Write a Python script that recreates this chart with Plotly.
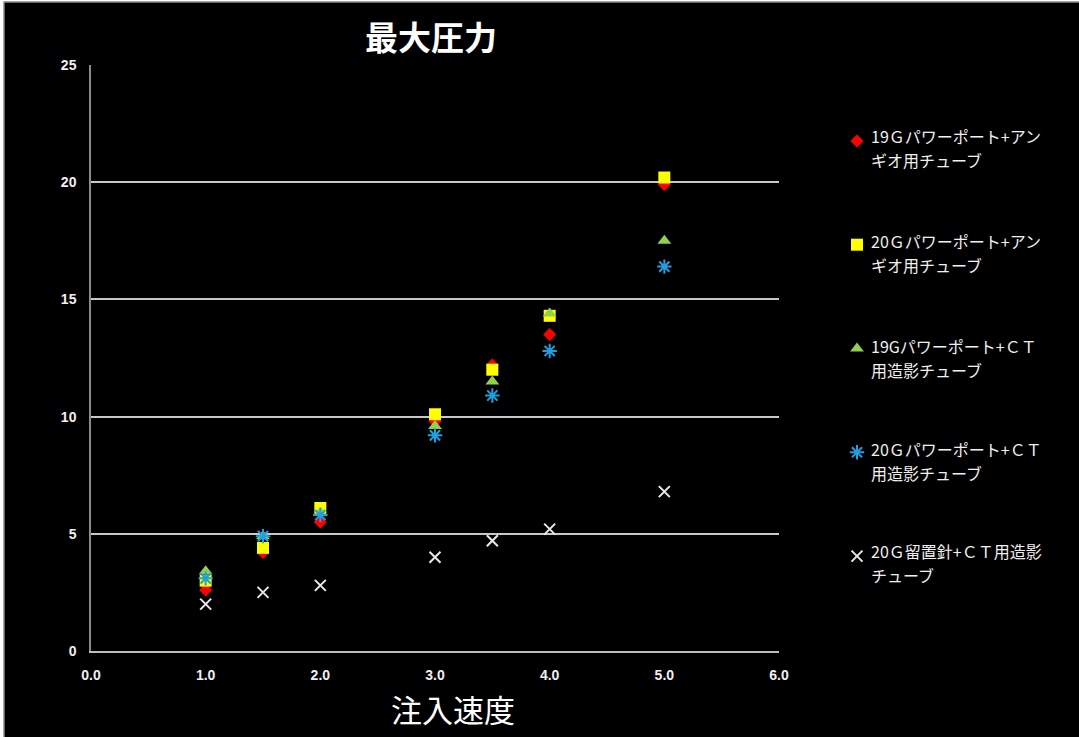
import plotly.graph_objects as go

# injection rate (x) and maximum pressure (y) per catheter/tube combination
speeds = [1.0, 1.5, 2.0, 3.0, 3.5, 4.0, 5.0]

# legend captions, two lines each
label_lines = [
    ("19Ｇパワーポート+アン", "ギオ用チューブ"),
    ("20Ｇパワーポート+アン", "ギオ用チューブ"),
    ("19Gパワーポート+ＣＴ", "用造影チューブ"),
    ("20Ｇパワーポート+ＣＴ", "用造影チューブ"),
    ("20Ｇ留置針+ＣＴ用造影", "チューブ"),
]

p_19g_angio = [2.6, 4.2, 5.5, 9.8, 12.2, 13.5, 19.9]
p_20g_angio = [3.0, 4.4, 6.1, 10.1, 12.0, 14.3, 20.2]
p_19g_ct = [3.4, 4.9, 5.9, 9.6, 11.5, 14.4, 17.5]
p_20g_ct = [3.1, 4.9, 5.8, 9.2, 10.9, 12.8, 16.4]
p_20g_needle_ct = [2.0, 2.5, 2.8, 4.0, 4.7, 5.2, 6.8]

x_ticks = [0, 1, 2, 3, 4, 5, 6]
y_ticks = [0, 5, 10, 15, 20, 25]

series = [
    (p_19g_angio, dict(symbol="diamond", size=10, color="#ff0000")),
    (p_20g_angio, dict(symbol="square", size=12, color="#ffff00")),
    (p_19g_ct, dict(symbol="triangle-up", size=12, color="#92d050")),
    (p_20g_ct, dict(symbol="asterisk-open", size=12, color="#1fa0e0",
                    line=dict(color="#1fa0e0", width=2))),
    (p_20g_needle_ct, dict(symbol="x-thin-open", size=11, color="#e8e8e8",
                           line=dict(color="#e8e8e8", width=2))),
]

jp_font = "Noto Sans CJK JP"

# plot area in pixels, used to place the paper-referenced captions
PLOT_L, PLOT_R, PLOT_T, PLOT_B = 91, 779, 65, 651


def paper_x(px):
    return (px - PLOT_L) / (PLOT_R - PLOT_L)


def paper_y(py):
    return (PLOT_B - py) / (PLOT_B - PLOT_T)


fig = go.Figure()
for i, (vals, marker) in enumerate(series):
    fig.add_trace(go.Scatter(
        x=speeds, y=vals, mode="markers",
        name=" ", legendgroup=f"g{i}", marker=marker,
    ))

# black backdrop with a thin grey frame
fig.add_shape(
    type="rect", xref="paper", yref="paper", layer="below",
    x0=paper_x(4), x1=paper_x(1082), y0=paper_y(740), y1=paper_y(2),
    fillcolor="#000000", line=dict(color="#8a8a8a", width=1.5),
)

# legend captions beside the legend keys
entry_top = [136, 241, 346, 449, 551]
for (l1, l2), yy in zip(label_lines, entry_top):
    for text, py in ((l1, yy), (l2, yy + 24)):
        fig.add_annotation(
            text=text, xref="paper", yref="paper",
            x=paper_x(869), y=paper_y(py), xanchor="left", yanchor="middle",
            showarrow=False,
            font=dict(family=jp_font, size=16, color="#f0f0f0"),
        )

# x-axis title, placed slightly right of the axis centre
fig.add_annotation(
    text="注入速度", xref="paper", yref="paper",
    x=paper_x(453), y=paper_y(708), xanchor="center", yanchor="middle",
    showarrow=False,
    font=dict(family=jp_font, size=31, color="#ffffff"),
)

fig.update_layout(
    width=1079, height=737,
    paper_bgcolor="#ffffff", plot_bgcolor="#000000",
    margin=dict(l=PLOT_L, r=1079 - PLOT_R, t=PLOT_T, b=737 - PLOT_B),
    title=dict(
        text="最大圧力", x=paper_x(431), xref="paper", xanchor="center",
        y=1 - 38 / 737, yanchor="middle",
        font=dict(family=jp_font, size=33, color="#ffffff", weight="bold"),
    ),
    legend=dict(
        x=paper_x(837), xanchor="left", y=paper_y(124), yanchor="top",
        bgcolor="rgba(0,0,0,0)",
        font=dict(family=jp_font, size=16, color="#f0f0f0"),
        tracegroupgap=80, itemwidth=30,
    ),
    xaxis=dict(
        range=[0, 6], tickvals=x_ticks, tickformat=".1f",
        showgrid=False, zeroline=False,
        showline=True, linecolor="#bdbdbd", linewidth=1.5,
        ticks="", ticklabelstandoff=10,
        tickfont=dict(family="Liberation Sans Narrow, Arial", size=14,
                      color="#f0f0f0", weight="bold"),
    ),
    yaxis=dict(
        range=[0, 25], tickvals=y_ticks,
        showgrid=True, gridcolor="#c8c8c8", gridwidth=1.5,
        zeroline=False,
        showline=True, linecolor="#8a8a8a", linewidth=1.5,
        ticks="", ticklabelstandoff=10,
        tickfont=dict(family="Liberation Sans Narrow, Arial", size=14,
                      color="#f0f0f0", weight="bold"),
    ),
)

fig.write_html("out.html")
